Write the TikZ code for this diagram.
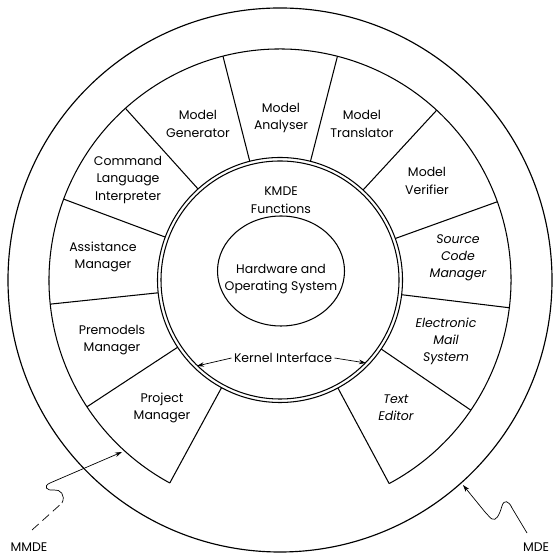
\documentclass[tikz,border=0pt]{standalone}
\usepackage{fontspec}
\setmainfont{Poppins}
\usetikzlibrary{calc,arrows.meta}
\begin{document}
\begin{tikzpicture}[x=1pt,y=1pt,line width=1.05pt,
  lbl/.style={align=center,font=\fontsize{12.5}{17.5}\selectfont,inner sep=0pt},
  ilbl/.style={align=center,font=\fontsize{12.5}{17}\selectfont\itshape,inner sep=0pt},
  arr/.style={line width=0.7pt,-{Stealth[length=7pt,width=4.5pt]}},
  wig/.style={line width=0.7pt}]
\useasboundingbox (0,0) rectangle (552,556);
\coordinate (C) at (280,276);
% outer circle (MDE)
\draw[line width=1.15pt] (C) circle (272);
% MMDE boundary arc
\draw ($(C)+(-61.8:231)$) arc[start angle=-61.8,end angle=241.5,radius=231];
% kernel interface (double circle)
\draw (C) circle (122.5);
\draw (C) circle (119);
% radial separators
\foreach \a in {241.5,213.3,186,159.5,132,104.3,75.6,47.3,19.8,-6.9,-34.3,-61.8}
  \draw ($(C)+(\a:122.5)$) -- ($(C)+(\a:231)$);
% hardware circle
\draw (281,285) ellipse[x radius=63.5,y radius=55];
% labels
\node[lbl] (gen) at (198,432) {Model\\Generator};
\node[lbl] (ana) at (281,438) {Model\\Analyser};
\node[lbl] (tra) at (362,432) {Model\\Translator};
\node[lbl] (ver) at (427,375) {Model\\Verifier};
\node[ilbl] (src) at (458,298) {Source\\Code\\Manager};
\node[ilbl] (mail) at (446,215) {Electronic\\Mail\\System};
\node[ilbl] (txt) at (396,148) {Text\\Editor};
\node[lbl] (proj) at (162,148) {Project\\Manager};
\node[lbl] (pre) at (112,216) {Premodels\\Manager};
\node[lbl] (asst) at (103,299) {Assistance\\Manager};
\node[lbl] (cmd) at (128,376) {Command\\Language\\Interpreter};
\node[lbl] (kmde) at (281,356) {KMDE\\Functions};
\node[lbl] (hw) at (281,277) {Hardware and\\Operating System};
\node[lbl] (kern) at (283,198) {Kernel Interface};
\node[lbl] (mmde) at (29,9) {MMDE};
\node[lbl] (mde) at (536,9) {MDE};
% kernel interface arrows
\coordinate (kl) at ($(C)+(226:119.5)$);
\coordinate (kr) at ($(C)+(-44:119.5)$);
\draw[arr] ([xshift=-2pt]kern.west) -- (kl);
\draw[arr] ([xshift=2pt]kern.east) -- (kr);
% MMDE pointer
\coordinate (mmtip) at (122,104);
\draw[wig,dashed,dash pattern=on 9pt off 5pt] (32,26) -- (62,53);
\draw[wig,arr] (62,53) .. controls (66,61) and (60,67) .. (54,66)
  .. controls (46,65) and (43,70) .. (50,73) -- (mmtip);
% MDE pointer
\coordinate (mdtip) at (463,71);
\draw[wig,arr] (527,23) -- (512,48) .. controls (509,55) and (504,57) .. (502,50)
  .. controls (499,40) and (496,35) .. (492,37)
  .. controls (490,38) and (488,41) .. (485,44) -- (mdtip);
\end{tikzpicture}
\end{document}
